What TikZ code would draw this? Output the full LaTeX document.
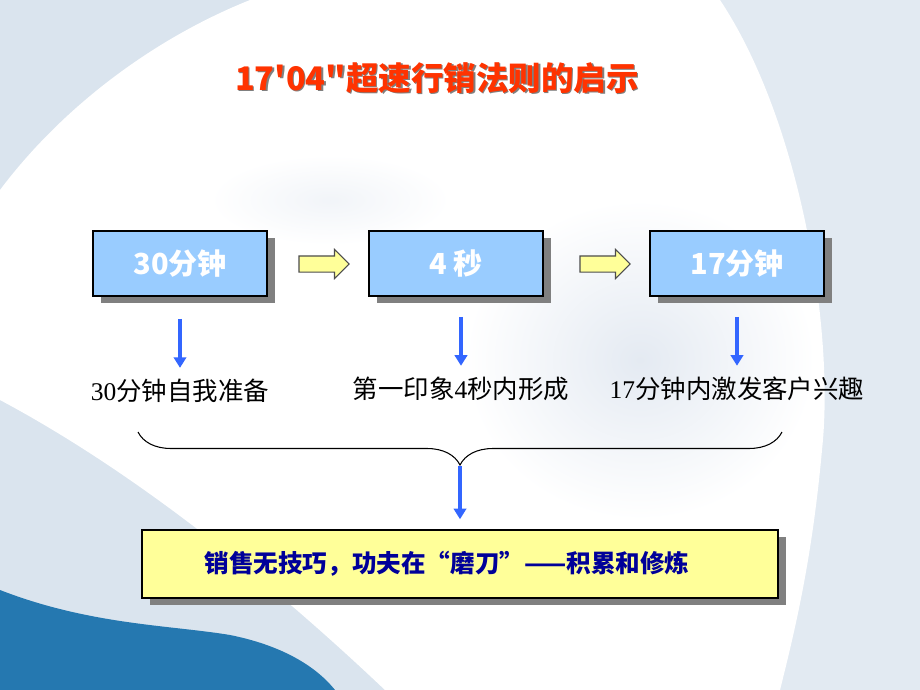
\documentclass[tikz,border=0pt]{standalone}
\usepackage{fontspec}
\setmainfont{Liberation Sans}
\newfontfamily\cjk{Noto Sans CJK SC}
\newfontfamily\numfont{Liberation Serif}
\usepackage{tikz}
\usetikzlibrary{arrows.meta,shadows,shapes.arrows,decorations.pathreplacing}
\definecolor{bgblue}{RGB}{218,228,238}
\definecolor{sideblue}{RGB}{226,234,242}
\definecolor{smudge}{RGB}{228,234,242}
\definecolor{deepblue}{RGB}{37,120,176}
\definecolor{boxblue}{RGB}{153,204,255}
\definecolor{paleyellow}{RGB}{255,255,153}
\definecolor{titlered}{RGB}{255,51,0}
\definecolor{arrowblue}{RGB}{51,102,255}
\definecolor{navytext}{RGB}{0,0,153}
\definecolor{shadowgray}{RGB}{128,128,128}

\begin{document}
\begin{tikzpicture}[x=0.02cm,y=-0.02cm,
  boxshadow/.style={drop shadow={shadow xshift=0.16cm,shadow yshift=-0.14cm,fill=shadowgray,opacity=1}},
  stage/.style={draw=black,line width=0.9pt,fill=boxblue,minimum width=3.48cm,minimum height=1.3cm,text=white,font=\cjk\bfseries\fontsize{16.5}{18}\selectfont,boxshadow},
  nextarrow/.style={single arrow,draw=black!70,line width=0.6pt,fill=paleyellow,minimum height=1cm,minimum width=0pt,inner xsep=0pt,inner ysep=0.15cm,single arrow head extend=0.13cm},
  note/.style={font=\cjk\fontsize{14.5}{16}\selectfont,inner sep=0pt},
  down/.style={draw=arrowblue,line width=1.8pt,-{Triangle[width=7pt,length=6pt]}},
  goal/.style={draw=black,line width=0.9pt,fill=paleyellow,minimum width=12.72cm,minimum height=1.36cm,text=navytext,font=\cjk\bfseries\fontsize{14}{16}\selectfont,boxshadow},
  heading/.style={font=\cjk\bfseries\fontsize{18.5}{20}\selectfont}]

\fill[bgblue] (0,0) rectangle (920,690);
\fill[sideblue] (700,0) rectangle (920,690);
\fill[white] (250,0) -- (720,0) .. controls (800,120) and (835,330) .. (822,450) .. controls (812,560) and (795,630) .. (780,690) -- (385,690) .. controls (290,600) and (150,480) .. (0,400) -- (0,190) .. controls (60,110) and (150,40) .. (250,0) -- cycle;
\shade[inner color=smudge,outer color=white] (640,360) ellipse (175 and 160);
\shade[inner color=smudge!50,outer color=white] (330,200) ellipse (120 and 45);
\fill[deepblue] (0,590) .. controls (90,625) and (170,625) .. (230,635) .. controls (280,645) and (315,665) .. (335,690) -- (0,690) -- cycle;

\node[heading,text=shadowgray] (titleshadow) at (438.5,79.5) {17'04"超速行销法则的启示};
\node[heading,text=titlered] (title) at (437,78) {17'04"超速行销法则的启示};

\node[stage] (s1) at (180,263.5) {30分钟};
\node[stage] (s2) at (456,263.5) {4 秒};
\node[stage] (s3) at (737,263.5) {17分钟};
\node[nextarrow] (a1) at (320,264) {};
\node[nextarrow] (a2) at (601,264) {};

\node[note] (n1) at (180,391) {{\numfont 30}分钟自我准备};
\node[note] (n2) at (461,389) {第一印象{\numfont 4}秒内形成};
\node[note] (n3) at (737,389) {{\numfont 17}分钟内激发客户兴趣};
\draw[down,shorten <=0.44cm,shorten >=0.22cm] (s1.south -| n1.north) -- (n1.north);
\draw[down,shorten <=0.4cm,shorten >=0.22cm] (s2.south -| n2.north) -- (n2.north);
\draw[down,shorten <=0.4cm,shorten >=0.22cm] (s3.south -| n3.north) -- (n3.north);

\coordinate (bl) at (138,432);
\coordinate (br) at (782,432);
\coordinate (tip) at (460,466);
\draw[line width=0.6pt,decorate,decoration={brace,mirror,amplitude=0.66cm}] (bl) -- (br);

\node[goal] (goal) at (460,564) {销售无技巧，功夫在“磨刀”——积累和修炼\hspace*{0.52cm}};
\draw[down,shorten >=0.2cm] (tip) -- (tip |- goal.north);
\end{tikzpicture}
\end{document}
